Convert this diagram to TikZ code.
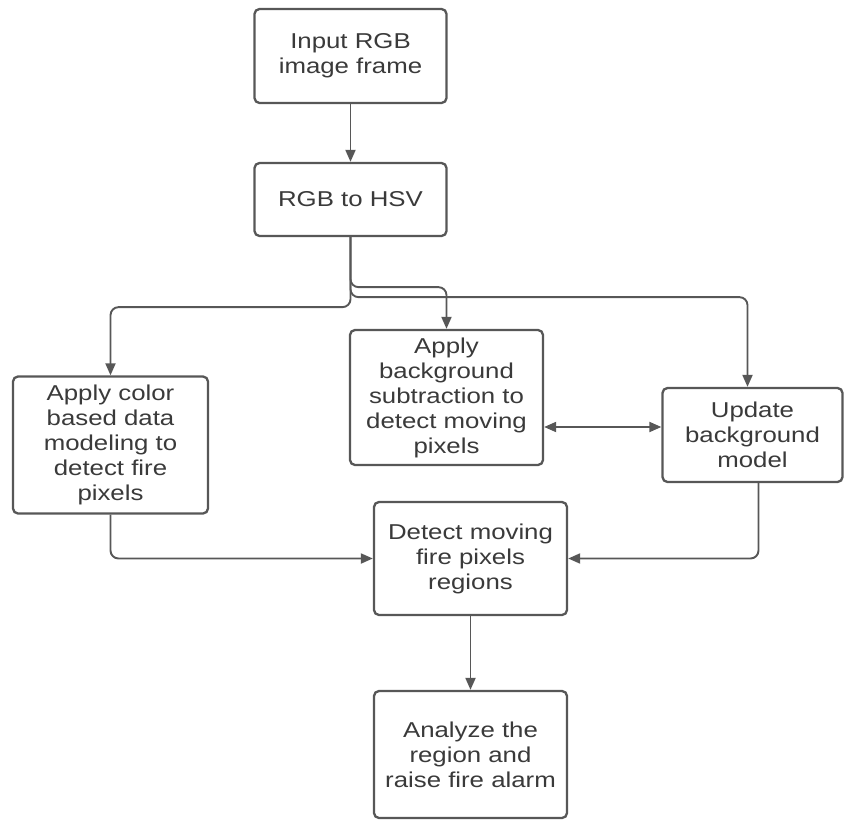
\documentclass[tikz,border=0pt]{standalone}
\usepackage{fontspec}
\setmainfont[FakeStretch=1.2]{Liberation Sans}
\usetikzlibrary{arrows.meta}
\definecolor{linegray}{HTML}{575757}
\definecolor{textgray}{HTML}{3A3A3A}
\tikzset{
  box/.style={draw=linegray, line width=2.3pt, rounded corners=5pt, fill=white,
    align=center, inner sep=0pt, text=textgray,
    font=\fontsize{21.5}{25}\selectfont},
  conn/.style={draw=linegray, line width=1.9pt, rounded corners=8pt,
    -{Triangle[length=12pt,width=10pt]}},
  conn2/.style={draw=linegray, line width=1.9pt,
    {Triangle[length=12pt,width=10pt]}-{Triangle[length=12pt,width=10pt]}}
}
\begin{document}
\begin{tikzpicture}[x=1pt,y=-1pt]
\useasboundingbox (0,0) rectangle (845,822);
\node[box, minimum width=192pt, minimum height=94pt] (b1) at (350.5,56) {Input RGB\\image frame};
\node[box, minimum width=192pt, minimum height=73pt] (b2) at (350.5,199.5) {RGB to HSV};
\node[box, minimum width=195pt, minimum height=137pt] (b3) at (110.5,445) {Apply color\\based data\\modeling to\\detect fire\\pixels};
\node[box, minimum width=193pt, minimum height=135pt] (b4) at (446.5,397.5) {Apply\\background\\subtraction to\\detect moving\\pixels};
\node[box, minimum width=180pt, minimum height=94pt] (b5) at (752.5,435) {Update\\background\\model};
\node[box, minimum width=193pt, minimum height=113pt] (b6) at (470.5,558.5) {Detect moving\\fire pixels\\regions};
\node[box, minimum width=193pt, minimum height=127pt] (b7) at (470.5,754.5) {Analyze the\\region and\\raise fire alarm};
\coordinate (mid) at (600,427);
\draw[conn] (b1) -- (b2);
\draw[conn] (b2.south) -- ++(0,70) -| (b3.north);
\draw[conn] (b2.south) -- ++(0,50) -| (b4.north);
\draw[conn] (b2.south) -- ++(0,60) -| ([xshift=-5pt]b5.north);
\draw[conn2] (b4.east |- mid) -- (b5.west |- mid);
\draw[conn] (b3.south) |- (b6.west);
\draw[conn] ([xshift=6pt]b5.south) |- (b6.east);
\draw[conn] (b6) -- (b7);
\end{tikzpicture}
\end{document}
